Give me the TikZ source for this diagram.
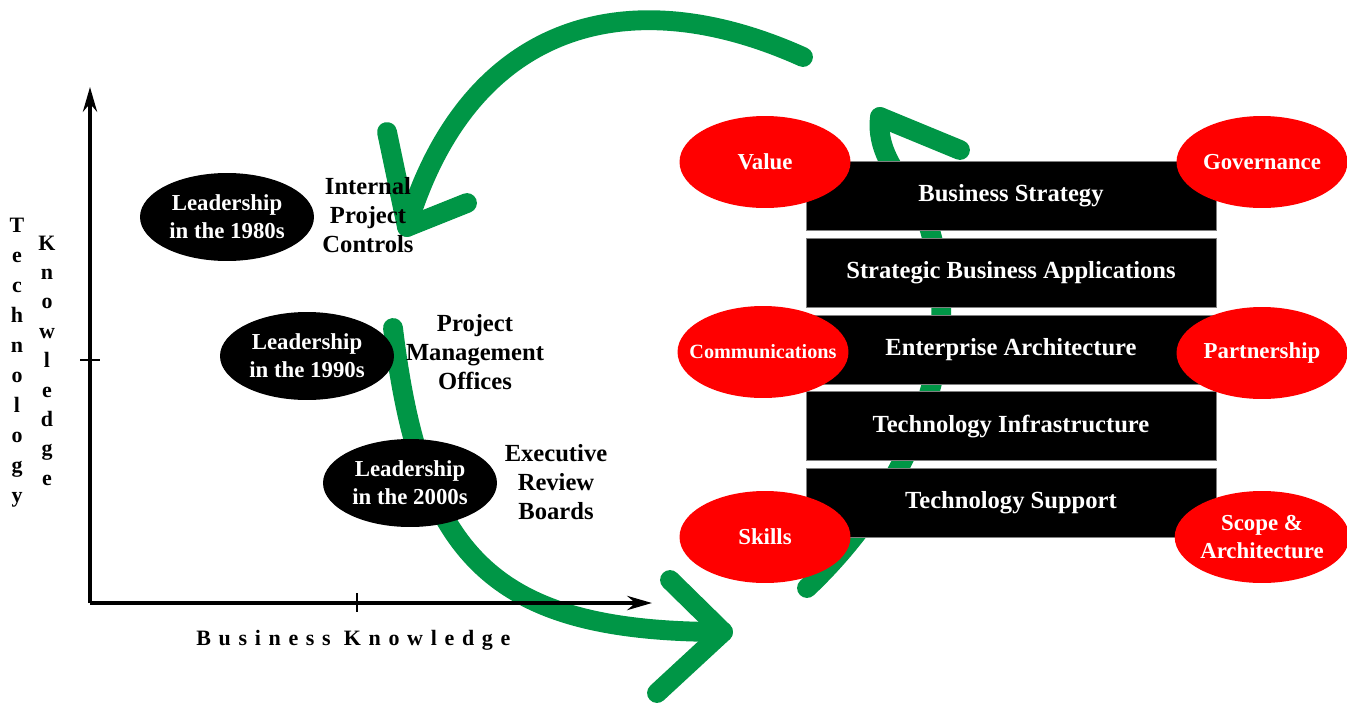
\documentclass[tikz,border=0pt]{standalone}
\usepackage{fontspec}
\setmainfont{Liberation Serif}
\usepackage{xcolor}
\definecolor{cgreen}{RGB}{0,150,70}
\definecolor{cred}{RGB}{255,0,0}
\usepackage{tikz}
\usetikzlibrary{shapes.geometric, positioning, arrows.meta, backgrounds}
\tikzset{
Era/.style={
	ellipse, fill=black, text=white,
	align=center, inner sep=0pt,
	minimum width=3.48cm, minimum height=1.76cm,
	font=\fontsize{13}{15.9}\selectfont\bfseries
},
Practice/.style={
	align=center, inner sep=0pt,
	font=\fontsize{14}{16.4}\selectfont\bfseries
},
Layer/.style={
	draw=gray, fill=black, text=white,
	minimum width=8.2cm, minimum height=1.38cm,
	font=\fontsize{14}{16}\selectfont\bfseries
},
Factor/.style={
	ellipse, fill=cred, text=white,
	align=center, inner sep=0pt,
	minimum width=3.42cm, minimum height=1.84cm,
	font=\fontsize{13}{16.4}\selectfont\bfseries
},
SmallFactor/.style={
	Factor, inner xsep=-0.3cm,
	font=\fontsize{11.5}{14}\selectfont\bfseries
},
Axis/.style={
	draw=black, line width=2.3pt,
	-{Stealth[length=14pt, width=8pt]}
},
Tick/.style={
	draw=black, line width=1.2pt
},
AxisLetter/.style={
	anchor=base, inner sep=0pt,
	font=\fontsize{12.5}{15}\selectfont\bfseries
},
Cycle/.style={
	draw=cgreen, line width=11.3pt,
	line cap=round, line join=round
}
}

\begin{document}
\begin{tikzpicture}[x=0.02cm, y=-0.02cm]
	\useasboundingbox (0,0) rectangle (1347,704);

	% axes
	\coordinate (O) at (90,603);
	\coordinate (ytop) at (90,87);
	\coordinate (xend) at (652,603);
	\draw[Axis] (O) -- (ytop);
	\draw[Axis] (O) -- (xend);
	\draw[Tick] (80,360) -- (100,360);
	\draw[Tick] (357,593) -- (357,612);

	\foreach \ch [count=\i] in {T,e,c,h,n,o,l,o,g,y}
		\node[AxisLetter] (tech\i) at (17,{232+30*(\i-1)}) {\ch};
	\foreach \ch [count=\i] in {K,n,o,w,l,e,d,g,e}
		\node[AxisLetter] (know\i) at (47,{250+29.4*(\i-1)}) {\ch};
	\node[AxisLetter, anchor=base west] (bk) at (196,645) {\addfontfeatures{LetterSpace=35}Business Knowledge};

	% leadership eras
	\node[Era] (e80) at (227,217) {Leadership\\in the 1980s};
	\node[Era] (e90) at (307,356) {Leadership\\in the 1990s};
	\node[Era] (e00) at (410,483) {Leadership\\in the 2000s};

	\node[Practice] (p80) at (368,215) {Internal\\Project\\Controls};
	\node[Practice] (p90) at (475,352) {Project\\Management\\Offices};
	\node[Practice] (p00) at (556,482) {Executive\\Review\\Boards};

	% layer stack
	\node[Layer] (strategy) at (1011,196) {Business Strategy};
	\node[Layer, below=0.14cm of strategy] (apps) {Strategic Business Applications};
	\node[Layer, below=0.14cm of apps] (arch) {Enterprise Architecture};
	\node[Layer, below=0.14cm of arch] (infra) {Technology Infrastructure};
	\node[Layer, below=0.14cm of infra] (support) {Technology Support};

	\node[Factor] (value) at (765,162) {Value};
	\node[Factor] (gov) at (1262,162) {Governance};
	\node[SmallFactor] (comm) at (763,352) {Communications};
	\node[Factor] (partner) at (1262,353) {Partnership};
	\node[Factor] (skills) at (765,537) {Skills};
	\node[Factor] (scope) at (1262,537) {Scope \&\\Architecture};

	% green cycle
	\coordinate (topStart) at (803,57);
	\coordinate (topTip) at (407,227);
	\coordinate (topArmA) at (387,132);
	\coordinate (topArmB) at (467,203);
	\coordinate (botStart) at (393,328);
	\coordinate (botTip) at (723,632);
	\coordinate (botArmA) at (670,580);
	\coordinate (botArmB) at (657,693);
	\coordinate (rStart) at (807,588);
	\coordinate (rMid) at (931,234);
	\coordinate (rTip) at (880,117);
	\coordinate (rArm) at (960,150);

	\begin{pgfonlayer}{background}
		\draw[Cycle] (topStart) .. controls (623,-24) and (467,27) .. (topTip);
		\draw[Cycle] (topArmA) -- (topTip) -- (topArmB);
		\draw[Cycle] (botStart) .. controls (421,558) and (493,632) .. (botTip);
		\draw[Cycle] (botArmA) -- (botTip) -- (botArmB);
		\draw[Cycle] (rStart) .. controls (900,500) and (968,365) .. (rMid)
			.. controls (922,196) and (874,165) .. (rTip);
		\draw[Cycle] (rTip) -- (rArm);
	\end{pgfonlayer}
\end{tikzpicture}
\end{document}
